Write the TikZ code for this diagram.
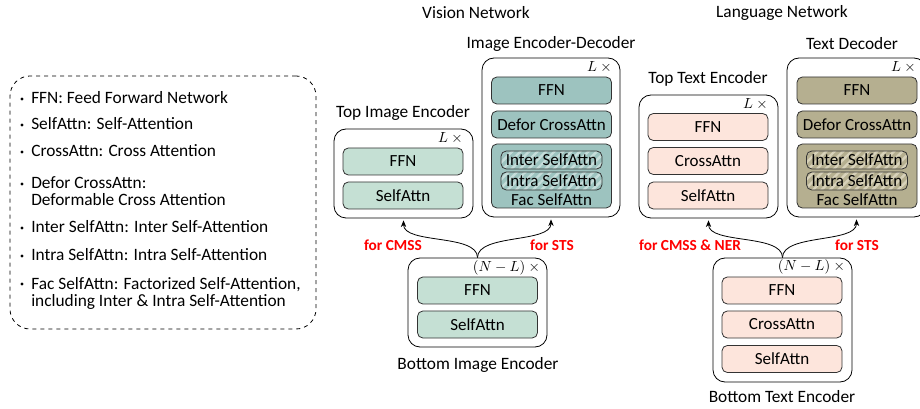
\documentclass[tikz,border=0pt]{standalone}
\usepackage{fontspec}
\setmainfont{Carlito}
\usetikzlibrary{positioning,arrows.meta,patterns.meta}

\definecolor{mintfill}{HTML}{C5E0D4}
\definecolor{tealfill}{HTML}{9DC3BF}
\definecolor{teallight}{HTML}{C6DDDA}
\definecolor{pinkfill}{HTML}{FDE5DC}
\definecolor{olivefill}{HTML}{B5AF90}
\definecolor{olivelight}{HTML}{D8D2BA}

\begin{document}
\begin{tikzpicture}[x=0.75pt,y=-0.75pt]

        \tikzset{
                stackbox/.style  = {draw, rounded corners=9pt, inner sep=0pt, line width=0.6pt},
                unitbox/.style   = {draw=black!80, rounded corners=4pt, inner sep=0pt, line width=0.6pt,
                                    minimum width=90pt, minimum height=20.25pt, font=\fontsize{12.75}{14}\selectfont},
                subbox/.style    = {unitbox, minimum width=75.75pt, minimum height=13.5pt},
                hatched/.style   = {preaction={fill=#1}, pattern={Lines[angle=45,distance=4.5pt,line width=1.8pt]}},
                titletext/.style = {font=\fontsize{13}{14}\selectfont},
                repeattext/.style= {font=\fontsize{10.5}{12}\selectfont, inner sep=0pt},
                tasktext/.style  = {font=\fontsize{11.5}{13}\selectfont\bfseries, text=red},
                legitem/.style   = {anchor=west, align=left, inner sep=0pt, font=\fontsize{13}{12.75}\selectfont},
                legdot/.style    = {circle, fill, inner sep=0pt, minimum size=2.6pt}
        }
        \tikzset{feedarrow/.style = {-{Stealth[length=5pt,width=4pt]}, line width=0.6pt, shorten >=1.5pt}}

        \useasboundingbox (0,0) rectangle (920,409);
        \clip (0,0) rectangle (920,409);

        %% legend
        \node [stackbox, dashed, rounded corners=15pt, minimum width=229.5pt, minimum height=189.75pt](legend) at (163,202.5) {};
        \foreach \y in {98,124,151,183,227,255,283}{
                \node [legdot](dot\y) at (22,\y+1) {};
        }
        \node [legitem](def1) at (31,98)    {FFN: Feed Forward Network};
        \node [legitem](def2) at (31,124)   {SelfAttn: Self-Attention};
        \node [legitem](def3) at (31,151)   {CrossAttn: Cross Attention};
        \node [legitem](def4) at (31,191.5) {Defor CrossAttn:\\Deformable Cross Attention};
        \node [legitem](def5) at (31,227)   {Inter SelfAttn: Inter Self-Attention};
        \node [legitem](def6) at (31,255)   {Intra SelfAttn: Intra Self-Attention};
        \node [legitem](def7) at (31,293)   {Fac SelfAttn: Factorized Self-Attention,\\including Inter \& Intra Self-Attention};

        %% vision network
        \node [titletext](vision) at (476,13) {Vision Network};

        \node [stackbox, minimum width=104.25pt, minimum height=66.75pt](tie) at (403.5,173.5) {};
        \node [titletext](tielabel) at (403,113) {Top Image Encoder};
        \node [repeattext](tierep) at (452,138) {$L\times{}$};
        \node [unitbox, fill=mintfill](tieffn) at (403,161.5) {FFN};
        \node [unitbox, fill=mintfill](tiesa)  at (403,195.5) {SelfAttn};

        \node [stackbox, minimum width=103.5pt, minimum height=119.25pt](ied) at (551,137.5) {};
        \node [titletext](iedlabel) at (551,44) {Image Encoder-Decoder};
        \node [repeattext](iedrep) at (601,67) {$L\times{}$};
        \node [unitbox, fill=tealfill](iedffn) at (551.5,90.5)  {FFN};
        \node [unitbox, fill=tealfill](iedca)  at (551.5,124.5) {Defor CrossAttn};
        \node [unitbox, fill=tealfill, minimum height=48pt](iedfac) at (551.5,176) {};
        \node [subbox, hatched=tealfill, pattern color=teallight](iedinter) at (551.5,160) {Inter SelfAttn};
        \node [subbox, hatched=tealfill, pattern color=teallight](iedintra) at (551.5,181) {Intra SelfAttn};
        \node [unitbox, draw=none, inner sep=0pt, minimum height=0pt](iedfaclabel) at (551.5,200) {Fac SelfAttn};

        \node [stackbox, minimum width=104.25pt, minimum height=66.75pt](bie) at (477.5,302.5) {};
        \node [titletext](bielabel) at (478,365) {Bottom Image Encoder};
        \node [repeattext](bierep) at (508,268) {$(N-L)\times{}$};
        \node [unitbox, fill=mintfill](bieffn) at (477.5,290.5) {FFN};
        \node [unitbox, fill=mintfill](biesa)  at (477.5,324.5) {SelfAttn};

        \draw [feedarrow] (bie.north) .. controls +(0,-24) and +(0,26) .. (tie.south);
        \draw [feedarrow] (bie.north) .. controls +(0,-24) and +(0,26) .. (ied.south);
        \node [tasktext](cmss) at (393,245) {for CMSS};
        \node [tasktext](sts1) at (552,245) {for STS};

        %% language network
        \node [titletext](language) at (782,13) {Language Network};

        \node [stackbox, minimum width=104.25pt, minimum height=92.25pt](tte) at (708.5,156.5) {};
        \node [titletext](ttelabel) at (708,79) {Top Text Encoder};
        \node [repeattext](tterep) at (757,104) {$L\times{}$};
        \node [unitbox, fill=pinkfill](tteffn) at (708,127)   {FFN};
        \node [unitbox, fill=pinkfill](tteca)  at (708,161)   {CrossAttn};
        \node [unitbox, fill=pinkfill](ttesa)  at (708,195.5) {SelfAttn};

        \node [stackbox, minimum width=104.25pt, minimum height=119.25pt](tdc) at (856.5,137.5) {};
        \node [titletext](tdclabel) at (852,44) {Text Decoder};
        \node [repeattext](tdcrep) at (905,67) {$L\times{}$};
        \node [unitbox, fill=olivefill](tdcffn) at (857,90.5)  {FFN};
        \node [unitbox, fill=olivefill](tdcca)  at (857,124.5) {Defor CrossAttn};
        \node [unitbox, fill=olivefill, minimum height=48pt](tdcfac) at (857,176) {};
        \node [subbox, hatched=olivefill, pattern color=olivelight](tdcinter) at (857,160) {Inter SelfAttn};
        \node [subbox, hatched=olivefill, pattern color=olivelight](tdcintra) at (857,181) {Intra SelfAttn};
        \node [unitbox, draw=none, inner sep=0pt, minimum height=0pt](tdcfaclabel) at (857,200) {Fac SelfAttn};

        \node [stackbox, minimum width=104.25pt, minimum height=93pt](bte) at (782.5,320) {};
        \node [titletext](btelabel) at (782,397) {Bottom Text Encoder};
        \node [repeattext](bterep) at (813,267) {$(N-L)\times{}$};
        \node [unitbox, fill=pinkfill](bteffn) at (782,290.5) {FFN};
        \node [unitbox, fill=pinkfill](bteca)  at (782,324.5) {CrossAttn};
        \node [unitbox, fill=pinkfill](btesa)  at (782,359)   {SelfAttn};

        \draw [feedarrow] (bte.north) .. controls +(0,-24) and +(0,26) .. (tte.south);
        \draw [feedarrow] (bte.north) .. controls +(0,-24) and +(0,26) .. (tdc.south);
        \node [tasktext](cmssner) at (690,245) {for CMSS \& NER};
        \node [tasktext](sts2) at (857,245) {for STS};

\end{tikzpicture}
\end{document}
